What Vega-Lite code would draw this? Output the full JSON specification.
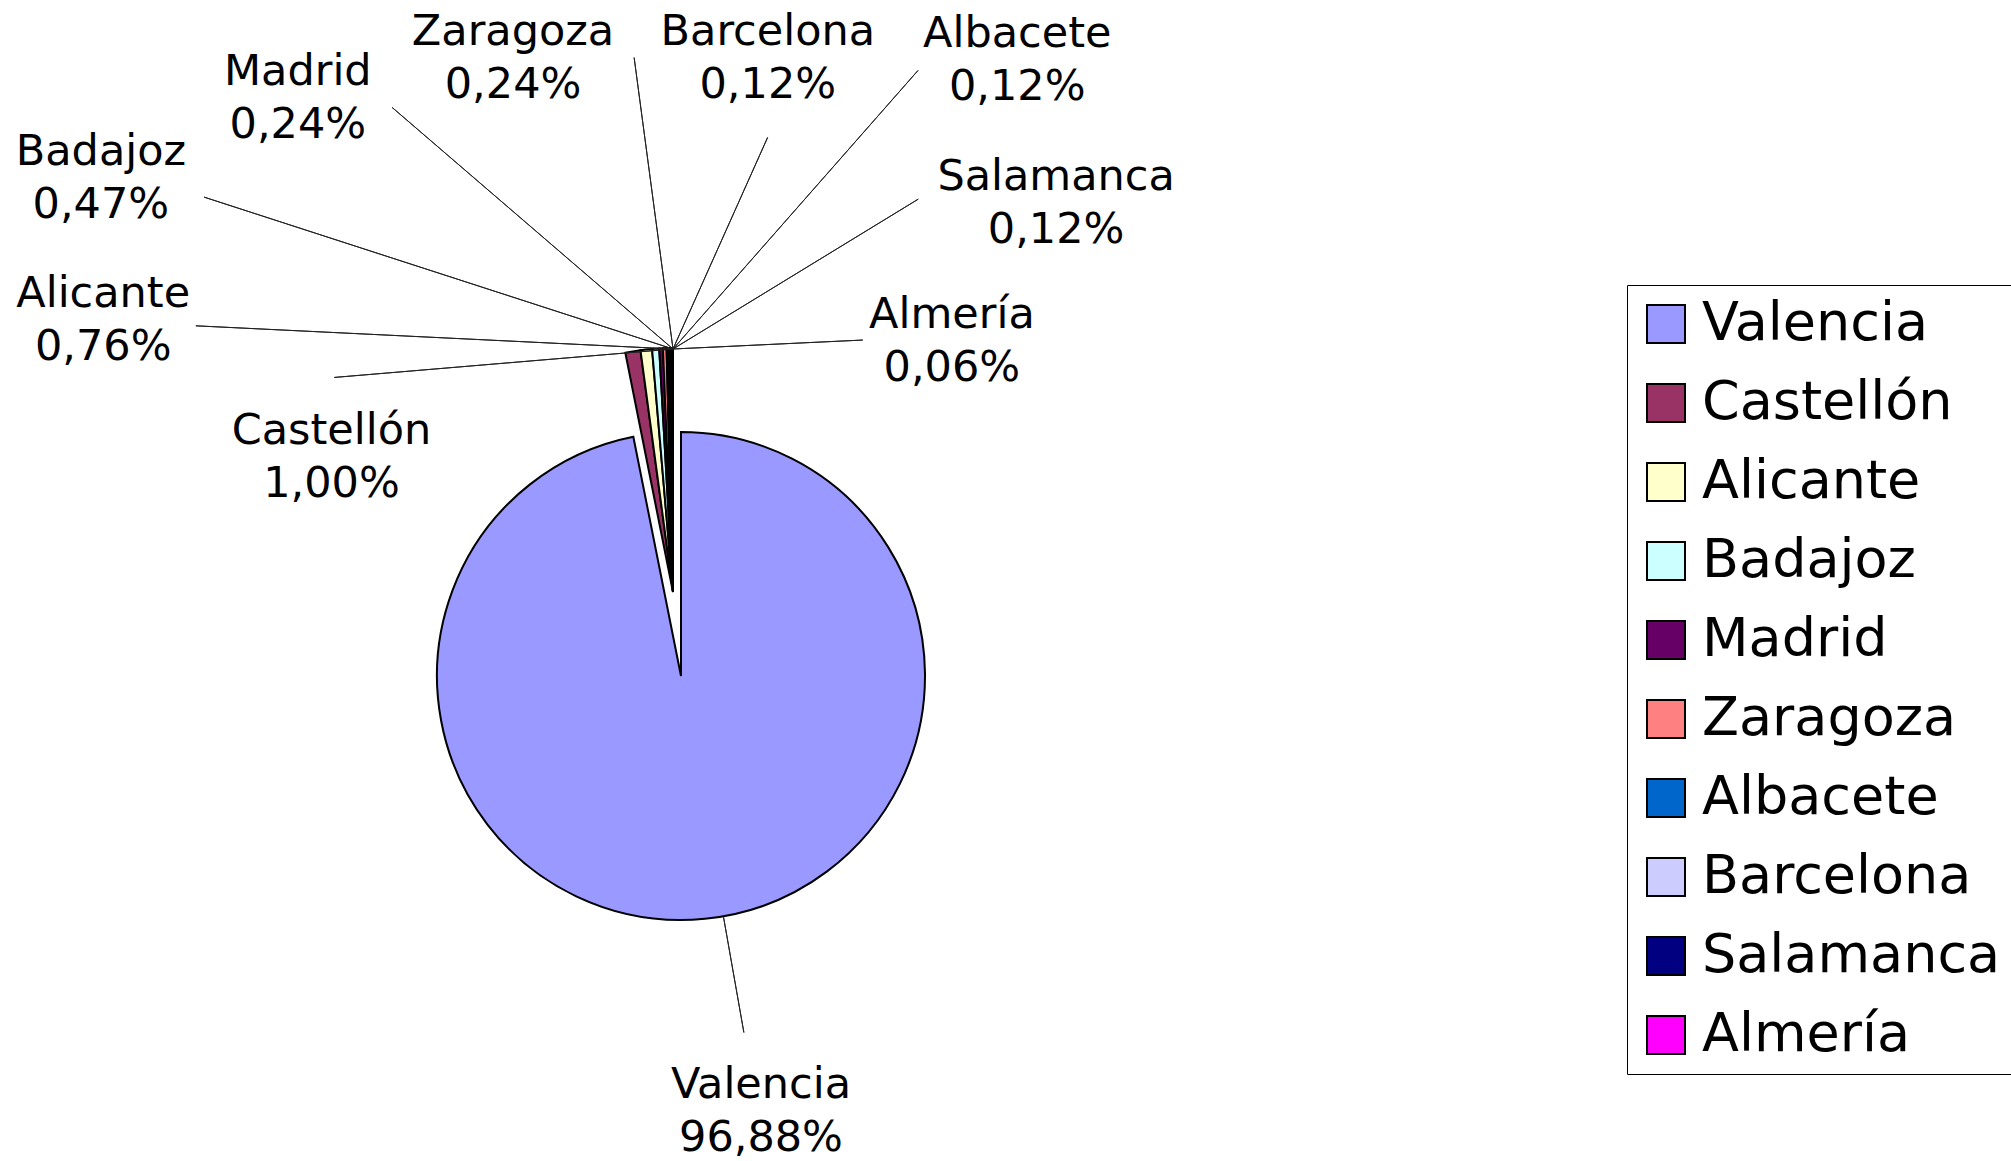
{
  "$schema": "https://vega.github.io/schema/vega-lite/v6.json",
  "width": 1362,
  "height": 970,
  "autosize": {"type": "none"},
  "padding": {"left": 0, "top": 191, "right": 649, "bottom": 0},
  "background": "white",
  "config": {
    "view": {"stroke": null},
    "font": "DejaVu Sans",
    "text": {"font": "DejaVu Sans", "fontSize": 43, "color": "black", "align": "center", "baseline": "middle"},
    "locale": {"number": {"decimal": ",", "thousands": ".", "grouping": [3], "currency": ["", "%"]}}
  },
  "data": {
    "values": [
      {"city": "Valencia", "pct": 96.88, "order": 1},
      {"city": "Castellón", "pct": 1.00, "order": 2},
      {"city": "Alicante", "pct": 0.76, "order": 3},
      {"city": "Badajoz", "pct": 0.47, "order": 4},
      {"city": "Madrid", "pct": 0.24, "order": 5},
      {"city": "Zaragoza", "pct": 0.24, "order": 6},
      {"city": "Albacete", "pct": 0.12, "order": 7},
      {"city": "Barcelona", "pct": 0.12, "order": 8},
      {"city": "Salamanca", "pct": 0.12, "order": 9},
      {"city": "Almería", "pct": 0.06, "order": 10}
    ]
  },
  "layer": [
    {
      "transform": [
        {"stack": "pct", "groupby": [], "sort": [{"field": "order"}], "offset": "normalize", "as": ["t0", "t1"]},
        {"filter": "datum.city === 'Valencia'"}
      ],
      "mark": {"type": "arc", "outerRadius": 244, "stroke": "black", "strokeWidth": 2},
      "encoding": {
        "theta": {"field": "t0", "type": "quantitative", "scale": {"domain": [0, 1], "range": [0, 6.283185307]}},
        "theta2": {"field": "t1"},
        "color": {
          "field": "city", "type": "nominal",
          "scale": {
            "domain": ["Valencia", "Castellón", "Alicante", "Badajoz", "Madrid", "Zaragoza", "Albacete", "Barcelona", "Salamanca", "Almería"],
            "range": ["#9999FF", "#993366", "#FFFFCC", "#CCFFFF", "#660066", "#FF8080", "#0066CC", "#CCCCFF", "#000080", "#FF00FF"]
          },
          "legend": {
            "orient": "none", "legendX": 1627, "legendY": 94, "title": null,
            "symbolType": "square", "symbolSize": 1444, "symbolStrokeColor": "black", "symbolStrokeWidth": 2, "symbolOpacity": 1,
            "labelFont": "DejaVu Sans", "labelFontSize": 54, "labelColor": "black", "labelLimit": 600, "labelOffset": 9, "labelBaseline": "middle",
            "rowPadding": 25, "padding": 12, "strokeColor": "black", "fillColor": "white"
          }
        }
      }
    },
    {
      "transform": [
        {"stack": "pct", "groupby": [], "sort": [{"field": "order"}], "offset": "normalize", "as": ["t0", "t1"]},
        {"filter": "datum.city !== 'Valencia'"}
      ],
      "mark": {"type": "arc", "outerRadius": 244, "stroke": "black", "strokeWidth": 2, "xOffset": -8, "yOffset": -84},
      "encoding": {
        "theta": {"field": "t0", "type": "quantitative", "scale": {"domain": [0, 1], "range": [0, 6.283185307]}},
        "theta2": {"field": "t1"},
        "color": {"field": "city", "type": "nominal"}
      }
    },
    {
      "transform": [{"filter": "indexof(['Castellón','Alicante','Badajoz','Madrid','Zaragoza'], datum.city) >= 0"}],
      "mark": {"type": "arc", "fill": null, "stroke": "#222", "strokeWidth": 1, "xOffset": -8, "yOffset": -327},
      "encoding": {
        "theta": {"field": "city", "type": "nominal", "scale": {"type": "point", "padding": 0,
          "domain": ["Castellón", "·1", "Alicante", "·2", "·3", "·4", "Badajoz", "·5", "·6", "·7", "·8", "·9", "Madrid", "·10", "·11", "·12", "·13", "·14", "·15", "·16", "·17", "·18", "·19", "Zaragoza"],
          "range": [-1.6546, -0.1326]}},
        "theta2": {"field": "city"},
        "radius": {"field": "city", "type": "nominal", "scale": {"type": "point", "padding": 0,
          "domain": ["Zaragoza", "·1", "·2", "Castellón", "·3", "Madrid", "·4", "·5", "·6", "·7", "·8", "·9", "Alicante", "Badajoz"],
          "range": [294, 493]}},
        "radius2": {"value": 0}
      }
    },
    {
      "transform": [{"filter": "indexof(['Barcelona','Albacete','Salamanca','Almería'], datum.city) >= 0"}],
      "mark": {"type": "arc", "fill": null, "stroke": "#222", "strokeWidth": 1, "xOffset": -8, "yOffset": -327},
      "encoding": {
        "theta": {"field": "city", "type": "nominal", "scale": {"type": "point", "padding": 0,
          "domain": ["Barcelona", "·1", "·2", "Albacete", "·3", "·4", "Salamanca", "·5", "·6", "·7", "·8", "Almería"],
          "range": [0.4206, 1.5237]}},
        "theta2": {"field": "city"},
        "radius": {"field": "city", "type": "nominal", "scale": {"type": "point", "padding": 0,
          "domain": ["Almería", "·1", "·2", "Barcelona", "·3", "·4", "·5", "Salamanca", "·6", "·7", "·8", "·9", "·10", "Albacete"],
          "range": [190, 371]}},
        "radius2": {"value": 0}
      }
    },
    {
      "transform": [{"filter": "indexof(['Castellón','Alicante','Badajoz','Madrid','Zaragoza'], datum.city) >= 0"}],
      "mark": {"type": "text", "xOffset": -8, "yOffset": -353.5},
      "encoding": {
        "theta": {"field": "city", "type": "nominal", "scale": {"type": "point", "padding": 0,
          "domain": ["Castellón", "·1", "·2", "·3", "·4", "·5", "Alicante", "·6", "·7", "·8", "Badajoz", "·9", "·10", "·11", "·12", "Madrid", "·13", "·14", "·15", "·16", "·17", "·18", "·19", "Zaragoza"],
          "range": [-1.8797, -0.5027]}},
        "radius": {"field": "city", "type": "nominal", "scale": {"type": "point", "padding": 0,
          "domain": ["Zaragoza", "·1", "Castellón", "·2", "·3", "·4", "·5", "·6", "·7", "Madrid", "·8", "·9", "·10", "·11", "·12", "·13", "·14", "·15", "Alicante", "·16", "Badajoz"],
          "range": [332, 597]}},
        "text": {"field": "city", "type": "nominal"}
      }
    },
    {
      "transform": [{"filter": "indexof(['Castellón','Alicante','Badajoz','Madrid','Zaragoza'], datum.city) >= 0"}],
      "mark": {"type": "text", "xOffset": -8, "yOffset": -300.5},
      "encoding": {
        "theta": {"field": "city", "type": "nominal", "scale": {"type": "point", "padding": 0,
          "domain": ["Castellón", "·1", "·2", "·3", "·4", "·5", "Alicante", "·6", "·7", "·8", "Badajoz", "·9", "·10", "·11", "·12", "Madrid", "·13", "·14", "·15", "·16", "·17", "·18", "·19", "Zaragoza"],
          "range": [-1.8797, -0.5027]}},
        "radius": {"field": "city", "type": "nominal", "scale": {"type": "point", "padding": 0,
          "domain": ["Zaragoza", "·1", "Castellón", "·2", "·3", "·4", "·5", "·6", "·7", "Madrid", "·8", "·9", "·10", "·11", "·12", "·13", "·14", "·15", "Alicante", "·16", "Badajoz"],
          "range": [332, 597]}},
        "text": {"field": "pct", "type": "quantitative", "format": "$.2f"}
      }
    },
    {
      "transform": [{"filter": "indexof(['Barcelona','Albacete','Salamanca','Almería'], datum.city) >= 0"}],
      "mark": {"type": "text", "xOffset": -8, "yOffset": -353.5},
      "encoding": {
        "theta": {"field": "city", "type": "nominal", "scale": {"type": "point", "padding": 0,
          "domain": ["Barcelona", "·1", "·2", "·3", "·4", "Albacete", "·5", "·6", "Salamanca", "·7", "·8", "Almería"],
          "range": [0.3159, 1.5429]}},
        "radius": {"field": "city", "type": "nominal", "scale": {"type": "point", "padding": 0,
          "domain": ["Almería", "·1", "Barcelona", "·2", "·3", "·4", "·5", "·6", "·7", "·8", "Salamanca", "·9", "·10", "Albacete"],
          "range": [279, 449]}},
        "text": {"field": "city", "type": "nominal"}
      }
    },
    {
      "transform": [{"filter": "indexof(['Barcelona','Albacete','Salamanca','Almería'], datum.city) >= 0"}],
      "mark": {"type": "text", "xOffset": -8, "yOffset": -300.5},
      "encoding": {
        "theta": {"field": "city", "type": "nominal", "scale": {"type": "point", "padding": 0,
          "domain": ["Barcelona", "·1", "·2", "·3", "·4", "Albacete", "·5", "·6", "Salamanca", "·7", "·8", "Almería"],
          "range": [0.3159, 1.5429]}},
        "radius": {"field": "city", "type": "nominal", "scale": {"type": "point", "padding": 0,
          "domain": ["Almería", "·1", "Barcelona", "·2", "·3", "·4", "·5", "·6", "·7", "·8", "Salamanca", "·9", "·10", "Albacete"],
          "range": [279, 449]}},
        "text": {"field": "pct", "type": "quantitative", "format": "$.2f"}
      }
    },
    {
      "transform": [{"filter": "datum.city === 'Valencia'"}],
      "mark": {"type": "arc", "fill": null, "stroke": "#222", "strokeWidth": 1, "innerRadius": 245, "outerRadius": 362},
      "encoding": {
        "theta": {"field": "city", "type": "nominal", "scale": {"type": "point", "padding": 0, "domain": ["Valencia"], "range": [2.967, 2.967]}},
        "theta2": {"field": "city"}
      }
    },
    {
      "transform": [{"filter": "datum.city === 'Valencia'"}],
      "mark": {"type": "text", "radius": 443, "yOffset": -26.5},
      "encoding": {
        "theta": {"field": "city", "type": "nominal", "scale": {"type": "point", "padding": 0, "domain": ["Valencia"], "range": [2.96, 2.96]}},
        "text": {"field": "city", "type": "nominal"}
      }
    },
    {
      "transform": [{"filter": "datum.city === 'Valencia'"}],
      "mark": {"type": "text", "radius": 443, "yOffset": 26.5},
      "encoding": {
        "theta": {"field": "city", "type": "nominal", "scale": {"type": "point", "padding": 0, "domain": ["Valencia"], "range": [2.96, 2.96]}},
        "text": {"field": "pct", "type": "quantitative", "format": "$.2f"}
      }
    }
  ],
  "resolve": {"scale": {"theta": "independent", "radius": "independent"}}
}
